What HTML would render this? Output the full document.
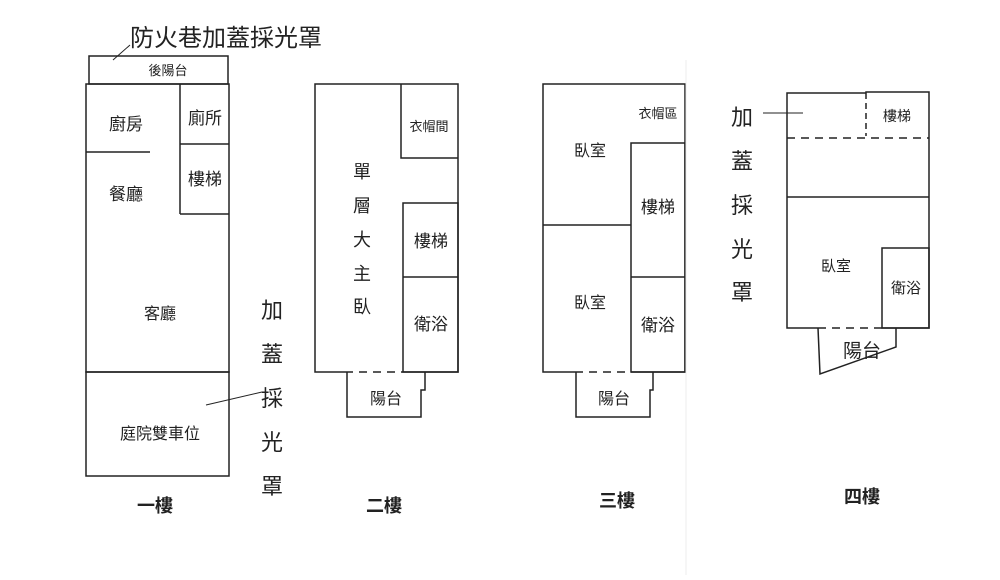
<!DOCTYPE html>
<html><head><meta charset="utf-8"><style>
body{margin:0;background:#fff}
svg text{font-family:"Liberation Sans","Noto Sans CJK TC",sans-serif;fill:#222}
</style></head><body>
<svg width="1000" height="575" viewBox="0 0 1000 575" xmlns="http://www.w3.org/2000/svg">
<g fill="none" stroke="#222" stroke-width="1.5">
<!-- floor1 -->
<rect x="89" y="56" width="139" height="28"/>
<rect x="86" y="84" width="143" height="288"/>
<rect x="86" y="372" width="143" height="104"/>
<line x1="86" y1="152" x2="150" y2="152"/>
<line x1="180" y1="84" x2="180" y2="214"/>
<line x1="180" y1="144" x2="229" y2="144"/>
<line x1="180" y1="214" x2="229" y2="214"/>
<line x1="113" y1="60" x2="130" y2="45" stroke-width="1"/>
<line x1="262" y1="392" x2="206" y2="405" stroke-width="1"/>
<!-- floor2 -->
<polyline points="345,372 315,372 315,84 458,84 458,372 403,372"/>
<line x1="345" y1="372" x2="403" y2="372" stroke-dasharray="8,6"/>
<polyline points="401,84 401,158 458,158"/>
<rect x="403" y="203" width="55" height="169"/>
<line x1="403" y1="277" x2="458" y2="277"/>
<polyline points="347,372 347,417 421,417 421,390 425,390 425,372"/>
<!-- floor3 -->
<polyline points="575,372 543,372 543,84 685,84 685,372 631,372"/>
<line x1="575" y1="372" x2="631" y2="372" stroke-dasharray="8,6"/>
<line x1="543" y1="225" x2="631" y2="225"/>
<rect x="631" y="143" width="54" height="229"/>
<line x1="631" y1="277" x2="685" y2="277"/>
<polyline points="576,372 576,417 650,417 650,390 653,390 653,372"/>
<!-- floor4 -->
<polyline points="866,93 787,93 787,328 818,328"/>
<polyline points="866,93 866,92 929,92 929,328 882,328"/>
<line x1="866" y1="93" x2="866" y2="136" stroke-dasharray="6,4"/>
<line x1="787" y1="138" x2="929" y2="138" stroke-dasharray="8,6"/>
<line x1="787" y1="197" x2="929" y2="197"/>
<rect x="882" y="248" width="47" height="80"/>
<line x1="818" y1="328" x2="882" y2="328" stroke-dasharray="8,6"/>
<polyline points="818,328 820,374 896,347 896,328"/>
<line x1="763" y1="113" x2="803" y2="113" stroke-width="1"/>
</g>
<line x1="686" y1="60" x2="686" y2="575" stroke="#eee" stroke-width="1"/>
<g font-size="16">
<text x="130" y="46" font-size="24">防火巷加蓋採光罩</text>
<text x="168" y="75" font-size="13" text-anchor="middle">後陽台</text>
<text x="126" y="130" text-anchor="middle" font-size="17">廚房</text>
<text x="205" y="124" text-anchor="middle" font-size="17">廁所</text>
<text x="205" y="185" text-anchor="middle" font-size="17">樓梯</text>
<text x="126" y="200" text-anchor="middle" font-size="17">餐廳</text>
<text x="160" y="319" text-anchor="middle">客廳</text>
<text x="160" y="439" text-anchor="middle">庭院雙車位</text>
<g font-size="22" text-anchor="middle"><text x="272" y="318">加</text><text x="272" y="362">蓋</text><text x="272" y="406">採</text><text x="272" y="450">光</text><text x="272" y="494">罩</text></g>
<text x="429" y="131" text-anchor="middle" font-size="13">衣帽間</text>
<g font-size="18" text-anchor="middle"><text x="362" y="178">單</text><text x="362" y="212">層</text><text x="362" y="246">大</text><text x="362" y="280">主</text><text x="362" y="313">臥</text></g>
<text x="431" y="247" text-anchor="middle" font-size="17">樓梯</text>
<text x="431" y="330" text-anchor="middle" font-size="17">衛浴</text>
<text x="386" y="404" text-anchor="middle">陽台</text>
<text x="658" y="118" text-anchor="middle" font-size="13">衣帽區</text>
<text x="590" y="156" text-anchor="middle">臥室</text>
<text x="658" y="213" text-anchor="middle" font-size="17">樓梯</text>
<text x="590" y="308" text-anchor="middle">臥室</text>
<text x="658" y="331" text-anchor="middle" font-size="17">衛浴</text>
<text x="614" y="404" text-anchor="middle">陽台</text>
<g font-size="22" text-anchor="middle"><text x="742" y="125">加</text><text x="742" y="169">蓋</text><text x="742" y="213">採</text><text x="742" y="257">光</text><text x="742" y="300">罩</text></g>
<text x="897" y="121" text-anchor="middle" font-size="14">樓梯</text>
<text x="836" y="271" text-anchor="middle" font-size="15">臥室</text>
<text x="906" y="293" text-anchor="middle" font-size="15">衛浴</text>
<text x="862" y="357" text-anchor="middle" font-size="19" fill="#666">陽台</text>
<g font-size="18" font-weight="bold" text-anchor="middle"><text x="155" y="512">一樓</text><text x="384" y="512">二樓</text><text x="617" y="507">三樓</text><text x="862" y="503">四樓</text></g>
</g>
</svg>
</body></html>
